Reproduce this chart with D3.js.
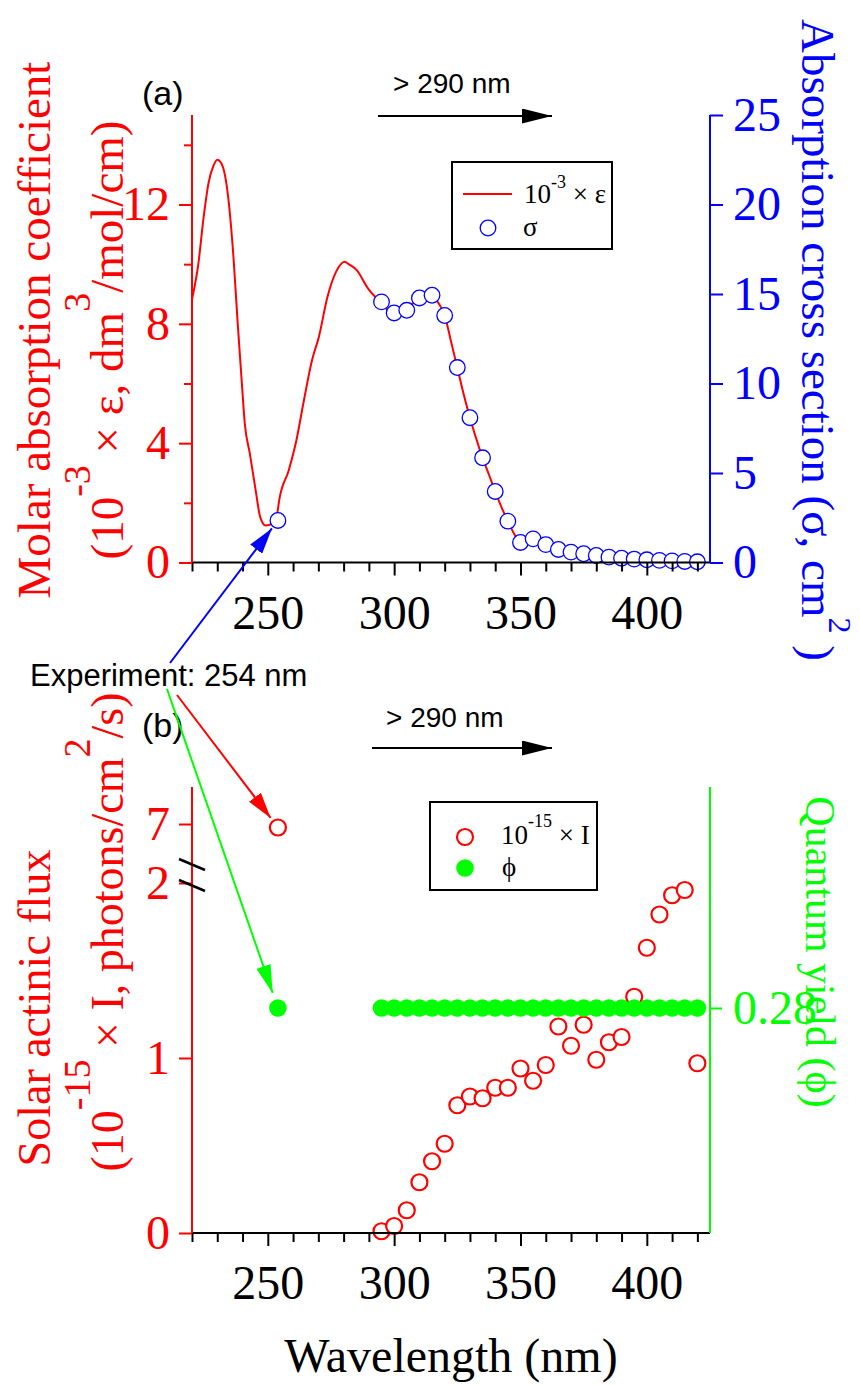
<!DOCTYPE html>
<html>
<head>
<meta charset="utf-8">
<script src="https://cdn.jsdelivr.net/npm/d3@7/dist/d3.min.js"></script>
<style>
  body { margin: 0; background: #fff; }
  svg { display: block; }
</style>
</head>
<body>
<div id="app"></div>
<script>
// ---- data ----
// panel (a): molar absorption coefficient, 10^-3 x eps
const epsWl = [220, 222.5, 224.5, 226.5, 228.5, 230, 231.5, 233, 234.3, 236.4, 238.1, 239.9, 240.9, 242.9, 245.2, 247, 249.1, 251.8, 253.8, 254.5, 258.3, 261.3, 264.3, 267.5, 270.2, 273.6, 277, 280.4, 282, 285.2, 289.7, 292, 295, 297.5, 300, 302.5, 305, 307.5, 310, 312.5, 315, 317.5, 320, 322.7, 325, 326.8, 330, 332.3, 335, 337.5, 340, 342.5, 345, 347.9, 350];
const eps   = [8.82, 10.0, 11.5, 12.7, 13.3, 13.5, 13.4, 13.0, 12.26, 10.25, 8.0, 5.8, 4.65, 3.65, 2.42, 1.52, 1.24, 1.3, 1.68, 2.08, 3.09, 4.09, 5.44, 6.78, 7.56, 8.9, 9.74, 10.08, 10.0, 9.8, 9.18, 8.95, 8.74, 8.45, 8.36, 8.4, 8.45, 8.7, 8.87, 8.95, 8.96, 8.7, 8.28, 7.34, 6.53, 5.88, 4.85, 4.2, 3.51, 2.95, 2.38, 1.85, 1.39, 0.9, 0.67];

// absorption cross section sigma
const sigmaWl = [254, 295, 300, 305, 310, 315, 320, 325, 330, 335, 340, 345, 350, 355, 360, 365, 370, 375, 380, 385, 390, 395, 400, 405, 410, 415, 420];
const sigma   = [2.35, 14.56, 13.94, 14.09, 14.78, 14.93, 13.8, 10.89, 8.09, 5.85, 3.97, 2.31, 1.12, 1.32, 1.0, 0.73, 0.58, 0.49, 0.39, 0.3, 0.24, 0.19, 0.15, 0.12, 0.09, 0.06, 0.04];

// panel (b): solar actinic flux 10^-15 x I, and quantum yield phi
const fluxWl = [254, 295, 300, 305, 310, 315, 320, 325, 330, 335, 340, 345, 350, 355, 360, 365, 370, 375, 380, 385, 390, 395, 400, 405, 410, 415, 420];
const flux   = [6.98, 0.01, 0.04, 0.13, 0.29, 0.41, 0.51, 0.73, 0.78, 0.77, 0.83, 0.83, 0.94, 0.87, 0.96, 1.18, 1.07, 1.19, 0.99, 1.09, 1.12, 1.35, 1.63, 1.82, 1.93, 1.96, 0.97];
const phi    = [0.28, 0.28, 0.28, 0.28, 0.28, 0.28, 0.28, 0.28, 0.28, 0.28, 0.28, 0.28, 0.28, 0.28, 0.28, 0.28, 0.28, 0.28, 0.28, 0.28, 0.28, 0.28, 0.28, 0.28, 0.28, 0.28, 0.28];

// ticks
const xMajor = [250, 300, 350, 400];
const xMinor = [220, 230, 240, 260, 270, 280, 290, 310, 320, 330, 340, 360, 370, 380, 390, 410, 420];
const epsMajor = [0, 4, 8, 12];
const epsMinor = [2, 6, 10, 14];
const sigmaTicks = [0, 5, 10, 15, 20, 25];
const fluxTicksLow = [0, 1, 2];
const fluxTicksHigh = [7];
const phiTicks = [0.28];

const serif = "'Liberation Serif', 'Times New Roman', serif";
const sans = "'Liberation Sans', Arial, sans-serif";
const RED = "#ff0000", BLUE = "#0000ff", GREEN = "#00ff00";

const w = 860, h = 1385;
const svg = d3.select("#app").append("svg")
  .attr("width", w)
  .attr("height", h)
  .style("background-color", "#fff");

// scales
const x = d3.scaleLinear().domain([220, 425]).range([192, 710]);
const yEps = d3.scaleLinear().domain([0, 15]).range([562.5, 115]);
const ySig = d3.scaleLinear().domain([0, 25]).range([562.5, 115]);
const yFlux = d3.scaleLinear().domain([0, 2]).range([1233, 883]);
const yFluxTop = d3.scaleLinear().domain([7, 8]).range([824, 649]);
const yPhi = d3.scaleLinear().domain([0, 0.555]).range([1233, 787]);

// arrow markers
const defs = svg.append("defs");
function marker(id, color, len, half) {
  defs.append("marker")
    .attr("id", id)
    .attr("viewBox", "0 0 " + len + " " + (2 * half))
    .attr("refX", len).attr("refY", half)
    .attr("markerWidth", len).attr("markerHeight", 2 * half)
    .attr("markerUnits", "userSpaceOnUse")
    .attr("orient", "auto")
    .append("path")
    .attr("d", "M0,0 L" + len + "," + half + " L0," + (2 * half) + " Z")
    .attr("fill", color);
}
marker("arr-k", "#000", 30, 7.5);
marker("arr-b", BLUE, 26, 7.5);
marker("arr-r", RED, 26, 7.5);
marker("arr-g", GREEN, 28, 7.5);

function styleAxis(g, color, size) {
  g.select(".domain").remove();
  g.selectAll(".tick line").attr("stroke", color).attr("stroke-width", 2);
  g.selectAll(".tick text")
    .attr("fill", color)
    .style("font-family", serif)
    .style("font-size", (size || 48) + "px");
}

function xAxes(y0) {
  svg.append("g")
    .attr("transform", "translate(0," + y0 + ")")
    .call(d3.axisBottom(x).tickValues(xMinor).tickSize(9).tickFormat(""))
    .call(g => styleAxis(g, "#000"));
  svg.append("g")
    .attr("transform", "translate(0," + y0 + ")")
    .call(d3.axisBottom(x).tickValues(xMajor).tickSize(13).tickPadding(19).tickFormat(d3.format("d")))
    .call(g => styleAxis(g, "#000"));
  svg.append("line")
    .attr("x1", x.range()[0]).attr("x2", x.range()[1])
    .attr("y1", y0).attr("y2", y0)
    .attr("stroke", "#000").attr("stroke-width", 2);
}

// ================= panel (a) =================
const lineEps = d3.line()
  .x((d, i) => x(epsWl[i]))
  .y(d => yEps(d))
  .curve(d3.curveMonotoneX);

svg.append("path")
  .datum(eps)
  .attr("d", lineEps)
  .attr("fill", "none")
  .attr("stroke", RED)
  .attr("stroke-width", 2);

svg.selectAll(".sig")
  .data(sigma)
  .enter()
  .append("circle")
  .attr("class", "sig")
  .attr("cx", (d, i) => x(sigmaWl[i]))
  .attr("cy", d => ySig(d))
  .attr("r", 7.8)
  .attr("fill", "#fff")
  .attr("stroke", BLUE)
  .attr("stroke-width", 1.3);

xAxes(yEps.range()[0]);

// left eps axis
svg.append("g")
  .attr("transform", "translate(" + x.range()[0] + ",0)")
  .call(d3.axisLeft(yEps).tickValues(epsMinor).tickSize(8).tickFormat(""))
  .call(g => styleAxis(g, RED));
svg.append("g")
  .attr("transform", "translate(" + x.range()[0] + ",0)")
  .call(d3.axisLeft(yEps).tickValues(epsMajor).tickSize(13).tickPadding(9).tickFormat(d3.format("d")))
  .call(g => styleAxis(g, RED));
svg.append("line")
  .attr("x1", x.range()[0]).attr("x2", x.range()[0])
  .attr("y1", yEps.range()[0]).attr("y2", yEps.range()[1])
  .attr("stroke", RED).attr("stroke-width", 2);

// right sigma axis
svg.append("g")
  .attr("transform", "translate(" + x.range()[1] + ",0)")
  .call(d3.axisRight(ySig).tickValues(sigmaTicks).tickSize(13).tickPadding(10).tickFormat(d3.format("d")))
  .call(g => styleAxis(g, BLUE));
svg.append("line")
  .attr("x1", x.range()[1]).attr("x2", x.range()[1])
  .attr("y1", ySig.range()[0]).attr("y2", ySig.range()[1])
  .attr("stroke", BLUE).attr("stroke-width", 2);

// axis titles (a)
svg.append("text")
  .attr("transform", "translate(50,330) rotate(-90)")
  .attr("text-anchor", "middle")
  .attr("fill", RED)
  .style("font-family", serif).style("font-size", "47px")
  .text("Molar absorption coefficient");

const t2 = svg.append("text")
  .attr("transform", "translate(123,340) rotate(-90)")
  .attr("text-anchor", "middle")
  .attr("fill", RED)
  .style("font-family", serif).style("font-size", "47px");
t2.append("tspan").text("(10");
t2.append("tspan").attr("dy", -33).style("font-size", "38px").text("-3");
t2.append("tspan").attr("dy", 33).text(" \u00d7 \u03b5, dm");
t2.append("tspan").attr("dy", -33).style("font-size", "38px").text("3");
t2.append("tspan").attr("dy", 33).text("/mol/cm)");

const t3 = svg.append("text")
  .attr("transform", "translate(802,340) rotate(90)")
  .attr("text-anchor", "middle")
  .attr("fill", BLUE)
  .style("font-family", serif).style("font-size", "47px");
t3.append("tspan").text("Absorption cross section (\u03c3, cm");
t3.append("tspan").attr("dy", -27).style("font-size", "32px").text("2");
t3.append("tspan").attr("dy", 27).text(" )");

// legend (a)
svg.append("rect")
  .attr("x", 452).attr("y", 162).attr("width", 160).attr("height", 87)
  .attr("fill", "#fff").attr("stroke", "#000").attr("stroke-width", 2);
svg.append("line")
  .attr("x1", 463).attr("x2", 512).attr("y1", 194).attr("y2", 194)
  .attr("stroke", RED).attr("stroke-width", 2);
const l1 = svg.append("text").attr("x", 524).attr("y", 203)
  .style("font-family", serif).style("font-size", "27px");
l1.append("tspan").text("10");
l1.append("tspan").attr("dy", -15).style("font-size", "18px").text("-3");
l1.append("tspan").attr("dy", 15).text(" \u00d7 \u03b5");
svg.append("circle")
  .attr("cx", 488).attr("cy", 228).attr("r", 7.8)
  .attr("fill", "#fff").attr("stroke", BLUE).attr("stroke-width", 1.3);
svg.append("text").attr("x", 523).attr("y", 236)
  .style("font-family", serif).style("font-size", "27px")
  .text("\u03c3");

// annotations (a)
svg.append("text").attr("x", 142).attr("y", 105)
  .style("font-family", sans).style("font-size", "34px").text("(a)");
svg.append("text").attr("x", 393).attr("y", 93)
  .style("font-family", sans).style("font-size", "28px").text("> 290 nm");
svg.append("line")
  .attr("x1", 378).attr("x2", 552).attr("y1", 116).attr("y2", 116)
  .attr("stroke", "#000").attr("stroke-width", 2)
  .attr("marker-end", "url(#arr-k)");

// ================= panel (b) =================
const yB0 = yFlux.range()[0];

svg.selectAll(".flux")
  .data(flux)
  .enter()
  .append("circle")
  .attr("class", "flux")
  .attr("cx", (d, i) => x(fluxWl[i]))
  .attr("cy", d => d > 5 ? yFluxTop(d) : yFlux(d))
  .attr("r", 8)
  .attr("fill", "#fff")
  .attr("stroke", RED)
  .attr("stroke-width", 2.2);

svg.selectAll(".phi")
  .data(phi)
  .enter()
  .append("circle")
  .attr("class", "phi")
  .attr("cx", (d, i) => x(fluxWl[i]))
  .attr("cy", d => yPhi(d))
  .attr("r", 8.8)
  .attr("fill", GREEN);

xAxes(yB0);

// left flux axis with break
svg.append("g")
  .attr("transform", "translate(" + x.range()[0] + ",0)")
  .call(d3.axisLeft(yFlux).tickValues(fluxTicksLow).tickSize(13).tickPadding(9).tickFormat(d3.format("d")))
  .call(g => styleAxis(g, RED));
svg.append("g")
  .attr("transform", "translate(" + x.range()[0] + ",0)")
  .call(d3.axisLeft(yFluxTop).tickValues(fluxTicksHigh).tickSize(13).tickPadding(9).tickFormat(d3.format("d")))
  .call(g => styleAxis(g, RED));
svg.append("line")
  .attr("x1", x.range()[0]).attr("x2", x.range()[0])
  .attr("y1", yPhi.range()[0]).attr("y2", yPhi.range()[1])
  .attr("stroke", RED).attr("stroke-width", 2);
// break marks
[859, 880].forEach(yb => {
  svg.append("line")
    .attr("x1", 179).attr("y1", yb).attr("x2", 205).attr("y2", yb + 11)
    .attr("stroke", "#000").attr("stroke-width", 2.5);
});

// right phi axis
svg.append("g")
  .attr("transform", "translate(" + x.range()[1] + ",0)")
  .call(d3.axisRight(yPhi).tickValues(phiTicks).tickSize(12).tickPadding(11).tickFormat(d3.format(".2f")))
  .call(g => styleAxis(g, GREEN));
svg.append("line")
  .attr("x1", x.range()[1]).attr("x2", x.range()[1])
  .attr("y1", yPhi.range()[0]).attr("y2", yPhi.range()[1])
  .attr("stroke", GREEN).attr("stroke-width", 2);

// axis titles (b)
svg.append("text")
  .attr("transform", "translate(50,1008) rotate(-90)")
  .attr("text-anchor", "middle")
  .attr("fill", RED)
  .style("font-family", serif).style("font-size", "46px")
  .text("Solar actinic flux");

const t5 = svg.append("text")
  .attr("transform", "translate(123,932) rotate(-90)")
  .attr("text-anchor", "middle")
  .attr("fill", RED)
  .style("font-family", serif).style("font-size", "46px");
t5.append("tspan").text("(10");
t5.append("tspan").attr("dy", -33).style("font-size", "38px").text("-15");
t5.append("tspan").attr("dy", 33).text(" \u00d7 I, photons/cm");
t5.append("tspan").attr("dy", -33).style("font-size", "38px").text("2");
t5.append("tspan").attr("dy", 33).text("/s)");

svg.append("text")
  .attr("transform", "translate(806,952) rotate(90)")
  .attr("text-anchor", "middle")
  .attr("fill", GREEN)
  .style("font-family", serif).style("font-size", "42px")
  .text("Quantum yield (\u03d5)");

svg.append("text")
  .attr("x", (x.range()[0] + x.range()[1]) / 2).attr("y", 1372)
  .attr("text-anchor", "middle")
  .style("font-family", serif).style("font-size", "48px")
  .text("Wavelength (nm)");

// legend (b)
svg.append("rect")
  .attr("x", 430).attr("y", 802).attr("width", 167).attr("height", 88)
  .attr("fill", "#fff").attr("stroke", "#000").attr("stroke-width", 2);
svg.append("circle")
  .attr("cx", 465).attr("cy", 837).attr("r", 8)
  .attr("fill", "#fff").attr("stroke", RED).attr("stroke-width", 2.2);
const l2 = svg.append("text").attr("x", 501).attr("y", 844)
  .style("font-family", serif).style("font-size", "27px");
l2.append("tspan").text("10");
l2.append("tspan").attr("dy", -17).style("font-size", "18px").text("-15");
l2.append("tspan").attr("dy", 17).text(" \u00d7 I");
svg.append("circle")
  .attr("cx", 465).attr("cy", 868).attr("r", 8.8)
  .attr("fill", GREEN);
svg.append("text").attr("x", 502).attr("y", 876)
  .style("font-family", serif).style("font-size", "27px")
  .text("\u03d5");

// annotations (b)
svg.append("text").attr("x", 142).attr("y", 737)
  .style("font-family", sans).style("font-size", "34px").text("(b)");
svg.append("text").attr("x", 386).attr("y", 727)
  .style("font-family", sans).style("font-size", "28px").text("> 290 nm");
svg.append("line")
  .attr("x1", 372).attr("x2", 552).attr("y1", 748).attr("y2", 748)
  .attr("stroke", "#000").attr("stroke-width", 2)
  .attr("marker-end", "url(#arr-k)");

svg.append("text").attr("x", 30).attr("y", 686)
  .style("font-family", sans).style("font-size", "31px")
  .text("Experiment: 254 nm");

// arrows from the experiment label to the 254 nm points
function pointer(x0, y0, cx, cy, gap, color, id) {
  const dx = cx - x0, dy = cy - y0, len = Math.sqrt(dx * dx + dy * dy);
  svg.append("line")
    .attr("x1", x0).attr("y1", y0)
    .attr("x2", cx - gap * dx / len).attr("y2", cy - gap * dy / len)
    .attr("stroke", color).attr("stroke-width", 2)
    .attr("marker-end", "url(#" + id + ")");
}
pointer(170, 663, x(sigmaWl[0]), ySig(sigma[0]), 10, BLUE, "arr-b");
pointer(177, 695, x(fluxWl[0]), yFluxTop(flux[0]), 12, RED, "arr-r");
pointer(167, 689, x(fluxWl[0]), yPhi(phi[0]), 16, GREEN, "arr-g");
</script>
</body>
</html>
